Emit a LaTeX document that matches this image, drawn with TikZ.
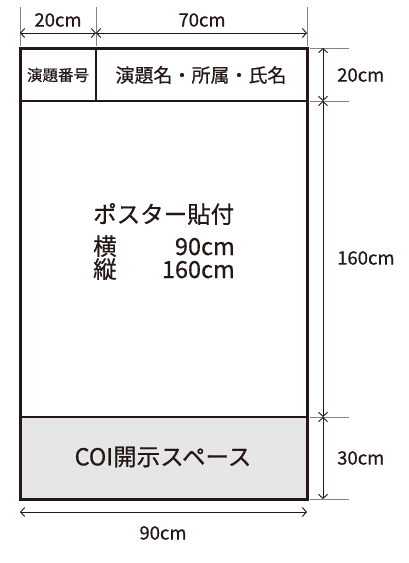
\documentclass[tikz,border=0pt]{standalone}
\usepackage{fontspec}
\setmainfont{Noto Sans CJK JP}[FakeBold=0.6]
\usetikzlibrary{arrows.meta}
\definecolor{ink}{HTML}{231815}
\definecolor{coigray}{HTML}{E6E6E6}

\begin{document}
\begin{tikzpicture}[x=1pt,y=-1pt,
    dimline/.style={ink,line width=0.9pt,{Straight Barb[length=4pt,width=9pt]}-{Straight Barb[length=4pt,width=9pt]}},
    extline/.style={ink!55,line width=0.7pt},
    dimlabel/.style={ink,inner sep=0pt,font=\fontsize{18.5}{20}\selectfont},
    bigtext/.style={ink,inner sep=0pt,font=\fontsize{23.5}{26}\selectfont}]
    \useasboundingbox (0,0) rectangle (408,563);
    \def\xl{20} \def\xm{96} \def\xr{307}
    \def\yt{48} \def\yh{101} \def\yc{417} \def\yb{499}
    \fill[coigray] (\xl,\yc) rectangle (\xr,\yb);
    \draw[ink,line width=2pt] (\xm,\yt) -- (\xm,\yh);
    \foreach \y in {\yh,\yc}
        \draw[ink,line width=2.2pt] (\xl,\y) -- (\xr,\y);
    \draw[ink,line width=3pt] (\xl,\yt) rectangle (\xr,\yb);
    \foreach \x/\n in {\xl/l,\xm/m,\xr/r}{
        \coordinate (top\n) at (\x,33);
        \draw[extline] (\x,7) -- (\x,46);
    }
    \foreach \y/\n in {\yt/t,\yh/h,\yc/c,\yb/b}{
        \coordinate (side\n) at (323,\y);
        \draw[extline] (310,\y) -- (349,\y);
    }
    \coordinate (botl) at (\xl,512);
    \coordinate (botr) at (\xr,512);
    \foreach \a/\b in {topl/topm,topm/topr,sidet/sideh,sideh/sidec,sidec/sideb,botl/botr}
        \draw[dimline] (\a) -- (\b);
    \node[dimlabel] (w20) at (58,20) {20cm};
    \node[dimlabel] (w70) at (202,20) {70cm};
    \node[dimlabel,anchor=west] (h20) at (337,75) {20cm};
    \node[dimlabel,anchor=west] (h160) at (337,258) {160cm};
    \node[dimlabel,anchor=west] (h30) at (337,458) {30cm};
    \node[dimlabel] (w90) at (163,533) {90cm};
    \node[ink,inner sep=0pt,font=\fontsize{15.5}{15}\selectfont] (number) at (58,75) {演題番号};
    \node[ink,inner sep=0pt,font=\fontsize{19}{19}\selectfont] (title) at (201,75) {演題名・所属・氏名};
    \node[bigtext,anchor=base west] (poster) at (93,223) {ポスター貼付};
    \node[bigtext,anchor=base west] (yoko) at (93,255) {横};
    \node[bigtext,anchor=base east] (yokoval) at (235,255) {90cm};
    \node[bigtext,anchor=base west] (tate) at (93,278) {縦};
    \node[bigtext,anchor=base east] (tateval) at (235,278) {160cm};
    \node[bigtext] (coi) at (163,457) {COI開示スペース};
\end{tikzpicture}
\end{document}
